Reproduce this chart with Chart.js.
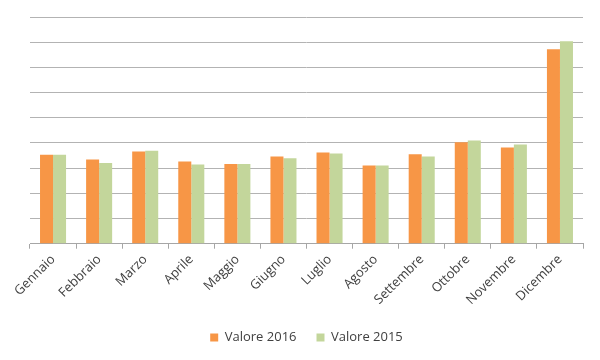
<!DOCTYPE html>
<html><head><meta charset="utf-8">
<script src="https://cdn.jsdelivr.net/npm/chart.js@4/dist/chart.umd.min.js"></script>
<style>html,body{margin:0;padding:0;background:#fff}#wrap{width:600px;height:360px}</style>
</head><body><div id="wrap"><canvas id="c" width="600" height="360"></canvas></div>
<script>
const categories = ["Gennaio","Febbraio","Marzo","Aprile","Maggio","Giugno","Luglio","Agosto","Settembre","Ottobre","Novembre","Dicembre"];
const valore2016 = [3.53,3.34,3.66,3.26,3.16,3.46,3.62,3.10,3.55,4.03,3.82,7.72];
const valore2015 = [3.53,3.20,3.69,3.14,3.16,3.39,3.58,3.10,3.46,4.10,3.94,8.04];
const seriesNames = ["Valore 2016","Valore 2015"];

new Chart(document.getElementById('c'), {
  type: 'bar',
  data: {
    labels: categories,
    datasets: [
      {label: seriesNames[0], data: valore2016, backgroundColor: '#F79646', categoryPercentage: 0.565, barPercentage: 1.0},
      {label: seriesNames[1], data: valore2015, backgroundColor: '#C3D69B', categoryPercentage: 0.565, barPercentage: 1.0}
    ]
  },
  options: {
    responsive: false,
    animation: false,
    layout: {padding: {left: 30, right: 17, top: 17, bottom: 6}},
    plugins: {
      legend: {
        position: 'bottom',
        labels: {boxWidth: 8, boxHeight: 8, color: '#404040', font: {family: 'Open Sans', size: 13}, padding: 20}
      },
      tooltip: {enabled: false}
    },
    scales: {
      x: {
        grid: {offset: true, drawOnChartArea: false, drawTicks: true, tickLength: 5, color: '#a6a6a6'},
        border: {display: true, color: '#a6a6a6'},
        ticks: {minRotation: 45, maxRotation: 45, color: '#404040', font: {family: 'Open Sans', size: 13}, padding: 3}
      },
      y: {
        min: 0, max: 9,
        ticks: {display: false, stepSize: 1},
        border: {display: false},
        grid: {color: '#b3b3b3', drawTicks: false}
      }
    }
  }
});
</script></body></html>
